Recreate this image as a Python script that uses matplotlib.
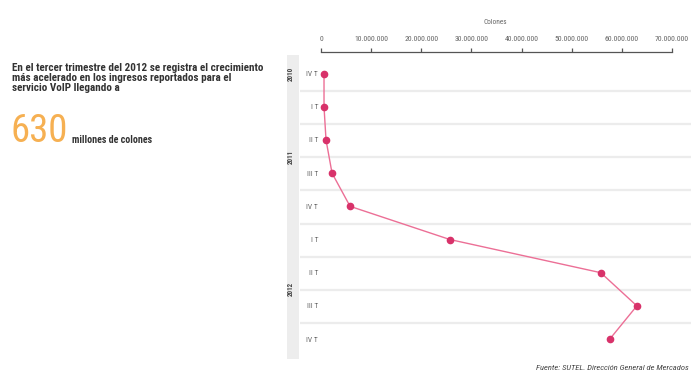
import matplotlib
matplotlib.use("Agg")
import matplotlib.pyplot as plt
from matplotlib.patches import Rectangle
from matplotlib.ticker import FuncFormatter
from matplotlib import font_manager
import matplotlib.transforms as mtransforms

# Ingresos trimestrales del servicio VoIP (colones)
quarters = ["IV T", "I T", "II T", "III T", "IV T", "I T", "II T", "III T", "IV T"]
revenue = [600_000, 600_000, 1_000_000, 2_200_000, 5_800_000,
           25_700_000, 55_800_000, 63_000_000, 57_600_000]
years = ["2010", "2011", "2012"]
year_rows = [(0, 0), (1, 4), (5, 8)]
x_ticks = [0, 10_000_000, 20_000_000, 30_000_000, 40_000_000,
           50_000_000, 60_000_000, 70_000_000]
headline = ["En el tercer trimestre del 2012 se registra el crecimiento",
            "más acelerado en los ingresos reportados para el",
            "servicio VoIP llegando a"]

W, H = 691, 374

# prefer a condensed face when one is installed
names = {f.name for f in font_manager.fontManager.ttflist}
cond = [f for f in font_manager.fontManager.ttflist
        if "Narrow" in f.name or "Condensed" in f.name]
NARROW_NAME = None
for cand in ["Liberation Sans Narrow", "Roboto Condensed", "Open Sans Condensed",
             "DejaVu Sans Condensed"]:
    if cand in names:
        NARROW_NAME = cand
        break
if NARROW_NAME is None and cond:
    NARROW_NAME = cond[0].name
NARROW = [NARROW_NAME, "DejaVu Sans"] if NARROW_NAME else ["DejaVu Sans"]
STRETCH = "condensed"
TXT = dict(family=NARROW, stretch=STRETCH)

fig = plt.figure(figsize=(W / 100, H / 100), dpi=100)
fig.patch.set_facecolor("white")

ax = fig.add_axes([300 / W, 1 - 356 / H, 391 / W, 304 / H])
ax.set_facecolor("white")

rows = list(range(len(revenue)))
ax.plot(revenue, rows, color="#ec6f96", lw=1.0, zorder=3)
ax.plot(revenue, rows, ls="none", marker="o", ms=4.5,
        color="#d8326a", mec="#d8326a", zorder=4)

ax.set_xlim(-4_190_000, 73_800_000)
ax.set_ylim(8.51, -0.65)

# separators between quarters
for r in rows[:-1]:
    ax.axhline(r + 0.52, color="#ececec", lw=1.6, zorder=1)

# top value axis
for side in ["left", "right", "bottom"]:
    ax.spines[side].set_visible(False)
ax.spines["top"].set_bounds(0, 70_000_000)
ax.spines["top"].set_color("#555555")
ax.spines["top"].set_linewidth(0.9)
ax.xaxis.set_ticks_position("top")
ax.xaxis.set_label_position("top")
ax.set_xticks(x_ticks)
ax.xaxis.set_major_formatter(
    FuncFormatter(lambda v, p: f"{int(v):,}".replace(",", ".")))
ax.tick_params(axis="x", direction="out", length=3, width=0.9,
               color="#555555", labelsize=5.6, labelcolor="#666666", pad=4)
for t in ax.get_xticklabels():
    t.set_family(NARROW)
    t.set_stretch(STRETCH)
ax.set_xlabel("Colones", fontsize=5.2, color="#666666", labelpad=9, **TXT)

# quarter labels inside the left margin
ax.set_yticks(rows)
ax.set_yticklabels(quarters)
ax.tick_params(axis="y", length=0, pad=-13, labelsize=5.4,
               labelcolor="#666666")
for t in ax.get_yticklabels():
    t.set_horizontalalignment("right")
    t.set_family(NARROW)
    t.set_stretch(STRETCH)

# year band
blend = mtransforms.blended_transform_factory(fig.transFigure, ax.transData)
band = Rectangle((287 / W, 8.6), 12 / W, -9.15, transform=blend,
                 facecolor="#ededed", edgecolor="none", clip_on=False,
                 zorder=0)
ax.add_patch(band)
for yr, (a, b) in zip(years, year_rows):
    ax.text(291 / W, (a + b) / 2, yr, transform=blend, rotation=90,
            ha="center", va="center", fontsize=5.0, color="#444444",
            fontweight="bold", **TXT)

# narrative block
for i, line in enumerate(headline):
    fig.text(12 / W, 1 - (71 + 10 * i) / H, line, ha="left", va="baseline",
             fontsize=8.0, fontweight="bold", color="#333333", **TXT)
fig.text(11 / W, 1 - 142 / H, "630", ha="left", va="baseline",
         fontsize=28, color="#f6b052", **TXT)
fig.text(72 / W, 1 - 143 / H, "millones de colones", ha="left",
         va="baseline", fontsize=7.2, fontweight="bold", color="#333333",
         **TXT)

fig.text(536 / W, 1 - 370 / H,
         "Fuente: SUTEL. Dirección General de Mercados",
         ha="left", va="baseline", fontsize=6.1, style="italic",
         color="#444444", **TXT)

fig.savefig("out.png", dpi=100, facecolor="white")
